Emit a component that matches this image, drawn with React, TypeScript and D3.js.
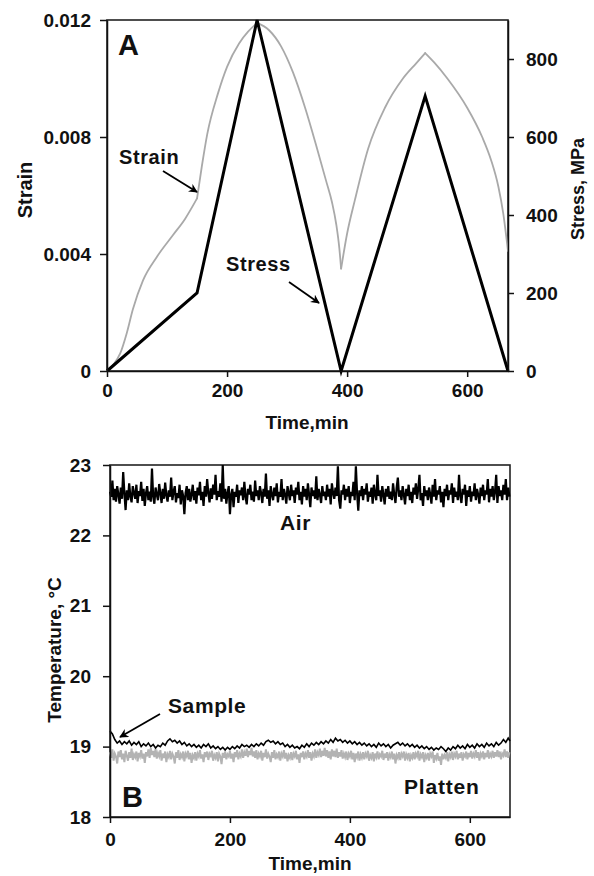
import React, { useEffect, useRef } from "react";
import * as d3 from "d3";

// ---------- Panel A data ----------
const stressTime = [0, 150, 250, 390, 530, 668];
const stressMPa = [0, 200, 900, 0, 705, 0];

const strainTime = [0, 10, 22, 33, 43, 60, 83, 110, 130, 150, 158, 167, 185, 200, 220, 235, 250, 270, 290, 310, 330, 350, 365, 375, 382, 387, 390, 400, 413, 435, 463, 493, 515, 530, 545, 567, 600, 625, 640, 652, 660, 668];
const strainVal = [0, 0.0002, 0.0006, 0.0013, 0.0021, 0.0031, 0.0039, 0.00465, 0.0052, 0.0059, 0.0070, 0.0081, 0.0095, 0.0104, 0.0112, 0.0116, 0.0119, 0.01165, 0.0111, 0.0102, 0.0090, 0.0076, 0.0065, 0.00575, 0.0050, 0.0042, 0.0035, 0.0047, 0.00585, 0.0076, 0.0090, 0.0100, 0.01052, 0.01087, 0.01055, 0.0100, 0.0090, 0.0080, 0.0072, 0.0063, 0.0054, 0.0041];

const strainTicks = [0, 0.004, 0.008, 0.012];
const stressTicks = [0, 200, 400, 600, 800];
const timeTicks = [0, 200, 400, 600];

// ---------- Panel B data ----------
const airStep = 2; // minutes between readings
const airTemp = [
  22.62, 22.55, 22.78, 22.5, 22.66, 22.48, 22.7, 22.58, 22.45, 22.68,
  22.52, 22.9, 22.6, 22.36, 22.64, 22.5, 22.74, 22.55, 22.47, 22.7,
  22.6, 22.52, 22.72, 22.46, 22.63, 22.56, 22.76, 22.49, 22.66, 22.42,
  22.6, 22.7, 22.5, 22.62, 22.48, 22.95, 22.55, 22.45, 22.68, 22.58,
  22.5, 22.73, 22.6, 22.46, 22.66, 22.52, 22.75, 22.57, 22.48, 22.64,
  22.55, 22.82, 22.5, 22.62, 22.7, 22.47, 22.6, 22.53, 22.72, 22.44,
  22.64, 22.56, 22.3, 22.6, 22.7, 22.5, 22.66, 22.48, 22.58, 22.72,
  22.5, 22.63, 22.45, 22.68, 22.57, 22.76, 22.5, 22.62, 22.42, 22.7,
  22.55, 22.8, 22.6, 22.47, 22.67, 22.52, 22.72, 22.58, 22.86, 22.5,
  22.63, 22.55, 22.74, 22.48, 23.0, 22.52, 22.66, 22.45, 22.6, 22.7,
  22.3, 22.58, 22.66, 22.4, 22.62, 22.55, 22.72, 22.46, 22.64, 22.57,
  22.68, 22.5, 22.76, 22.55, 22.44, 22.66, 22.58, 22.72, 22.5, 22.62,
  22.48, 22.78, 22.56, 22.64, 22.5, 22.7, 22.6, 22.46, 22.66, 22.55,
  22.88, 22.52, 22.64, 22.42, 22.7, 22.58, 22.5, 22.68, 22.56, 22.74,
  22.47, 22.62, 22.55, 22.8, 22.5, 22.66, 22.58, 22.45, 22.7, 22.6,
  22.5, 22.72, 22.56, 22.64, 22.46, 22.68, 22.58, 22.76, 22.5, 22.62,
  22.44, 22.7, 22.55, 22.66, 22.5, 22.74, 22.58, 22.4, 22.68, 22.56,
  22.64, 22.52, 22.84, 22.5, 22.66, 22.58, 22.46, 22.7, 22.56, 22.62,
  22.5, 22.72, 22.55, 22.66, 22.44, 22.74, 22.6, 22.52, 22.68, 22.56,
  22.98, 22.5, 22.38, 22.64, 22.58, 22.72, 22.5, 22.66, 22.55, 22.7,
  22.46, 22.62, 22.56, 22.76, 22.5, 22.98, 22.6, 22.35, 22.64, 22.56,
  22.7, 22.5, 22.66, 22.58, 22.74, 22.48, 22.62, 22.55, 22.68, 22.45,
  22.72, 22.58, 22.5, 22.86, 22.56, 22.64, 22.48, 22.7, 22.58, 22.44,
  22.66, 22.55, 22.7, 22.52, 22.62, 22.5, 22.74, 22.58, 22.46, 22.68,
  22.82, 22.55, 22.64, 22.5, 22.7, 22.58, 22.44, 22.66, 22.56, 22.72,
  22.5, 22.62, 22.46, 22.68, 22.58, 22.74, 22.52, 22.66, 22.86, 22.5,
  22.6, 22.42, 22.7, 22.56, 22.64, 22.5, 22.68, 22.58, 22.45, 22.72,
  22.55, 22.8, 22.5, 22.64, 22.58, 22.7, 22.47, 22.62, 22.4, 22.66,
  22.56, 22.72, 22.5, 22.64, 22.58, 22.74, 22.46, 22.68, 22.55, 22.62,
  22.5, 22.86, 22.56, 22.46, 22.66, 22.58, 22.72, 22.42, 22.64, 22.55,
  22.7, 22.48, 22.62, 22.56, 22.74, 22.5, 22.66, 22.58, 22.45, 22.68,
  22.56, 22.72, 22.5, 22.64, 22.58, 22.8, 22.47, 22.66, 22.55, 22.7,
  22.5, 22.62, 22.86, 22.46, 22.7, 22.56, 22.64, 22.5, 22.72, 22.58,
  22.8, 22.5, 22.68, 22.55,
];
const plattenStep = 2;
const plattenTemp = [
  18.92, 18.84, 18.96, 18.8, 18.9, 18.86, 18.76, 18.93, 18.85, 18.95,
  18.82, 18.9, 18.78, 18.94, 18.87, 18.8, 18.92, 18.84, 18.97, 18.81,
  18.89, 18.85, 18.93, 18.79, 18.91, 18.86, 18.95, 18.83, 18.9, 18.77,
  18.92, 18.86, 18.96, 18.84, 18.98, 18.88, 18.94, 18.85, 18.97, 18.83,
  18.91, 18.86, 18.95, 18.8, 18.9, 18.84, 18.93, 18.78, 18.89, 18.85,
  18.94, 18.82, 18.9, 18.86, 18.76, 18.92, 18.84, 18.95, 18.81, 18.89,
  18.85, 18.93, 18.79, 18.9, 18.86, 18.94, 18.82, 18.91, 18.77, 18.88,
  18.84, 18.92, 18.8, 18.9, 18.86, 18.95, 18.83, 18.89, 18.78, 18.92,
  18.85, 18.93, 18.81, 18.9, 18.87, 18.94, 18.8, 18.88, 18.84, 18.92,
  18.79, 18.9, 18.86, 18.75, 18.91, 18.84, 18.93, 18.82, 18.89, 18.86,
  18.94, 18.83, 18.9, 18.78, 18.92, 18.85, 18.95, 18.82, 18.9, 18.86,
  18.96, 18.84, 18.92, 18.87, 18.97, 18.85, 18.94, 18.88, 18.98, 18.86,
  18.93, 18.84, 18.95, 18.82, 18.9, 18.86, 18.94, 18.8, 18.91, 18.85,
  18.96, 18.83, 18.9, 18.86, 18.78, 18.92, 18.84, 18.95, 18.82, 18.89,
  18.85, 18.93, 18.8, 18.9, 18.86, 18.95, 18.83, 18.91, 18.79, 18.88,
  18.84, 18.92, 18.81, 18.9, 18.86, 18.94, 18.82, 18.89, 18.77, 18.91,
  18.85, 18.93, 18.82, 18.9, 18.86, 18.95, 18.84, 18.92, 18.8, 18.9,
  18.86, 18.96, 18.84, 18.92, 18.88, 18.97, 18.85, 18.94, 18.87, 18.98,
  18.86, 18.95, 18.84, 18.93, 18.82, 18.96, 18.86, 18.94, 18.85, 18.97,
  18.84, 18.92, 18.86, 18.95, 18.83, 18.9, 18.85, 18.93, 18.81, 18.9,
  18.86, 18.94, 18.82, 18.91, 18.78, 18.9, 18.85, 18.93, 18.8, 18.89,
  18.84, 18.92, 18.82, 18.9, 18.86, 18.94, 18.8, 18.88, 18.84, 18.92,
  18.79, 18.9, 18.85, 18.93, 18.82, 18.89, 18.86, 18.94, 18.81, 18.9,
  18.84, 18.92, 18.8, 18.89, 18.85, 18.93, 18.82, 18.9, 18.76, 18.88,
  18.84, 18.92, 18.81, 18.9, 18.86, 18.93, 18.8, 18.89, 18.84, 18.91,
  18.79, 18.88, 18.84, 18.92, 18.82, 18.9, 18.86, 18.94, 18.8, 18.89,
  18.85, 18.92, 18.78, 18.88, 18.84, 18.91, 18.8, 18.9, 18.86, 18.93,
  18.77, 18.88, 18.83, 18.91, 18.8, 18.86, 18.74, 18.9, 18.82, 18.88,
  18.84, 18.92, 18.79, 18.89, 18.85, 18.93, 18.81, 18.9, 18.86, 18.94,
  18.82, 18.9, 18.84, 18.92, 18.8, 18.89, 18.86, 18.93, 18.82, 18.91,
  18.85, 18.94, 18.83, 18.9, 18.86, 18.95, 18.84, 18.92, 18.8, 18.9,
  18.86, 18.93, 18.82, 18.91, 18.85, 18.95, 18.83, 18.9, 18.86, 18.94,
  18.84, 18.92, 18.86, 18.95, 18.85, 18.93, 18.82, 18.9, 18.87, 18.96,
  18.85, 18.93, 18.84, 18.92,
];
const sampleStep = 4;
const sampleTemp = [19.22, 19.18, 19.1, 19.05, 19.08, 19.03, 19.07, 19.04, 19.08, 19.02, 19.06, 19.03, 19.07, 19.0, 19.04, 19.01, 19.05, 19.0, 19.03, 18.98, 19.02, 19.0, 19.05, 19.02, 19.08, 19.11, 19.07, 19.09, 19.05, 19.08, 19.03, 19.06, 19.01, 19.04, 19.0, 19.03, 18.99, 19.02, 18.98, 19.03, 19.0, 19.04, 18.98, 19.01, 18.97, 19.0, 18.96, 18.99, 18.95, 18.99, 18.96, 19.0, 18.97, 19.01, 18.98, 19.03, 19.0, 19.02, 18.99, 19.03, 19.0, 19.04, 19.01, 19.05, 19.02, 19.07, 19.09, 19.06, 19.08, 19.04, 19.07, 19.03, 19.05, 19.0, 19.03, 18.99, 19.02, 18.98, 19.0, 18.97, 19.02, 18.99, 19.04, 19.0, 19.05, 19.02, 19.06, 19.03, 19.07, 19.04, 19.08, 19.05, 19.1, 19.06, 19.12, 19.08, 19.1, 19.06, 19.09, 19.05, 19.08, 19.04, 19.07, 19.03, 19.06, 19.02, 19.05, 19.01, 19.04, 19.0, 19.03, 18.99, 19.05, 19.01, 19.04, 19.0, 19.03, 18.98, 19.02, 19.04, 19.06, 19.02, 19.05, 19.01, 19.04, 19.0, 19.03, 18.99, 19.02, 18.98, 19.01, 18.97, 19.0, 18.96, 18.99, 18.95, 18.98, 18.96, 19.0, 18.97, 18.93, 18.98, 18.95, 19.0, 18.97, 19.02, 18.98, 19.01, 18.97, 19.03, 18.99, 19.02, 18.98, 19.04, 19.0, 19.03, 18.99, 19.05, 19.01, 19.04, 19.0, 19.06, 19.02, 19.05, 19.1, 19.06, 19.12, 19.08];
const tempTicks = [18, 19, 20, 21, 22, 23];

const FONT = "'Liberation Sans', Arial, sans-serif";

export default function App() {
  const ref = useRef<SVGSVGElement | null>(null);

  useEffect(() => {
    const svg = d3.select(ref.current);
    svg.selectAll("*").remove();

    const defs = svg.append("defs");
    defs
      .append("marker")
      .attr("id", "arr")
      .attr("viewBox", "0 0 10 10")
      .attr("refX", 9)
      .attr("refY", 5)
      .attr("markerWidth", 9)
      .attr("markerHeight", 9)
      .attr("markerUnits", "userSpaceOnUse")
      .attr("orient", "auto")
      .append("path")
      .attr("d", "M0,0 L10,5 L0,10 L3,5 Z")
      .attr("fill", "#000");

    const styleAxis = (g: any, size = 19) => {
      g.selectAll("text")
        .attr("font-family", FONT)
        .attr("font-size", size)
        .attr("font-weight", "bold")
        .attr("fill", "#111");
      g.selectAll("line").attr("stroke", "#111").attr("stroke-width", 1.5);
      g.selectAll("path").attr("stroke", "#111").attr("stroke-width", 1.5);
    };

    const txt = (g: any, x: number, y: number, s: string, size: number, weight = "bold", anchor = "start", rot = 0, ls = 0) => {
      const t = g.append("text")
        .attr("x", x).attr("y", y)
        .attr("font-family", FONT)
        .attr("font-size", size)
        .attr("font-weight", weight)
        .attr("text-anchor", anchor)
        .attr("letter-spacing", ls)
        .attr("fill", "#111")
        .text(s);
      if (rot) t.attr("transform", `rotate(${rot},${x},${y})`);
      return t;
    };

    // ================= Panel A =================
    const xA = d3.scaleLinear().domain([0, 668]).range([107, 508]);
    const yStrain = d3.scaleLinear().domain([0, 0.012]).range([371, 20]);
    const yStress = d3.scaleLinear().domain([0, 900]).range([371, 20]);

    const gA = svg.append("g");
    gA.append("rect")
      .attr("x", xA(0))
      .attr("y", yStrain(0.012))
      .attr("width", xA(668) - xA(0))
      .attr("height", yStrain(0) - yStrain(0.012))
      .attr("fill", "none")
      .attr("stroke", "#222")
      .attr("stroke-width", 1.6);

    // strain: smooth within each loading/unloading leg, sharp at the turning points
    const strainData = strainTime.map((t, i) => [t, strainVal[i]] as [number, number]);
    const strainLine = d3.line<[number, number]>().x((d) => xA(d[0])).y((d) => yStrain(d[1])).curve(d3.curveMonotoneX);
    for (let k = 0; k < stressTime.length - 1; k++) {
      const a = stressTime[k], b = stressTime[k + 1];
      const seg = strainData.filter((d) => d[0] >= a && d[0] <= b);
      gA.append("path")
        .datum(seg)
        .attr("fill", "none")
        .attr("stroke", "#a9a9a9")
        .attr("stroke-width", 1.8)
        .attr("stroke-linecap", "round")
        .attr("d", strainLine);
    }

    const stressData = stressTime.map((t, i) => [t, stressMPa[i]] as [number, number]);
    gA.append("path")
      .datum(stressData)
      .attr("fill", "none")
      .attr("stroke", "#000")
      .attr("stroke-width", 3)
      .attr("stroke-linejoin", "miter")
      .attr("d", d3.line<[number, number]>().x((d) => xA(d[0])).y((d) => yStress(d[1])));

    const axL = gA.append("g").attr("transform", `translate(${xA(0)},0)`)
      .call(
        d3.axisLeft(yStrain).tickValues(strainTicks).tickSize(7).tickPadding(9).tickSizeOuter(0)
          .tickFormat((d: any) => (d === 0 ? "0" : d3.format(".3f")(d)))
      );
    styleAxis(axL);
    const axR = gA.append("g").attr("transform", `translate(${xA(668)},0)`)
      .call(d3.axisRight(yStress).tickValues(stressTicks).tickSize(6).tickPadding(12).tickSizeOuter(0));
    styleAxis(axR);
    const axB = gA.append("g").attr("transform", `translate(0,${yStrain(0)})`)
      .call(d3.axisBottom(xA).tickValues(timeTicks).tickSize(6).tickPadding(7).tickSizeOuter(0).tickFormat(d3.format("d") as any));
    styleAxis(axB);

    txt(gA, 118, 55, "A", 29);
    txt(gA, 119, 164, "Strain", 20, "bold", "start", 0, 0.6);
    txt(gA, 226, 271, "Stress", 20, "bold", "start", 0, 0.6);
    txt(gA, 307, 429, "Time,min", 19, "bold", "middle");
    txt(gA, 32, 190, "Strain", 20, "bold", "middle", -90);
    txt(gA, 584, 189, "Stress, MPa", 18, "bold", "middle", -90);

    gA.append("line").attr("x1", 163).attr("y1", 171).attr("x2", 197).attr("y2", 192)
      .attr("stroke", "#000").attr("stroke-width", 1.8).attr("marker-end", "url(#arr)");
    gA.append("line").attr("x1", 289).attr("y1", 282).attr("x2", 319).attr("y2", 303)
      .attr("stroke", "#000").attr("stroke-width", 1.8).attr("marker-end", "url(#arr)");

    // ================= Panel B =================
    const xB = d3.scaleLinear().domain([0, 667]).range([110, 510]);
    const yB = d3.scaleLinear().domain([18, 23]).range([817, 465]);
    const gB = svg.append("g");

    gB.append("rect")
      .attr("x", xB(0)).attr("y", yB(23))
      .attr("width", xB(667) - xB(0)).attr("height", yB(18) - yB(23))
      .attr("fill", "none").attr("stroke", "#222").attr("stroke-width", 1.6);

    const lineB = (arr: number[], step: number) =>
      d3.line<number>().x((_, i) => xB(Math.min(i * step, 667))).y((d) => yB(d))(arr);

    gB.append("path").attr("d", lineB(airTemp, airStep)).attr("fill", "none").attr("stroke", "#000").attr("stroke-width", 2.2);
    gB.append("path").attr("d", lineB(plattenTemp, plattenStep)).attr("fill", "none").attr("stroke", "#b3b3b3").attr("stroke-width", 2);
    gB.append("path").attr("d", lineB(sampleTemp, sampleStep)).attr("fill", "none").attr("stroke", "#000").attr("stroke-width", 1.6);

    const axBL = gB.append("g").attr("transform", `translate(${xB(0)},0)`)
      .call(d3.axisLeft(yB).tickValues(tempTicks).tickSize(7).tickPadding(12).tickSizeOuter(0).tickFormat(d3.format("d") as any));
    styleAxis(axBL);
    const axBB = gB.append("g").attr("transform", `translate(0,${yB(18)})`)
      .call(d3.axisBottom(xB).tickValues(timeTicks).tickSize(6).tickPadding(10).tickSizeOuter(0).tickFormat(d3.format("d") as any));
    styleAxis(axBB);

    txt(gB, 122, 807, "B", 29);
    txt(gB, 280, 530, "Air", 21, "bold", "start", 0, 0.6);
    txt(gB, 168, 713, "Sample", 21, "bold", "start", 0, 0.6);
    txt(gB, 404, 794, "Platten", 21, "bold", "start", 0, 0.8);
    txt(gB, 310, 870, "Time,min", 19, "bold", "middle");
    txt(gB, 61, 650, "Temperature, °C", 19, "bold", "middle", -90);

    gB.append("line").attr("x1", 160).attr("y1", 714).attr("x2", 120).attr("y2", 737)
      .attr("stroke", "#000").attr("stroke-width", 1.8).attr("marker-end", "url(#arr)");
  }, []);

  return (
    <svg
      ref={ref}
      width={594}
      height={876}
      style={{ position: "absolute", left: 0, top: 0, background: "#fff" }}
    />
  );
}
